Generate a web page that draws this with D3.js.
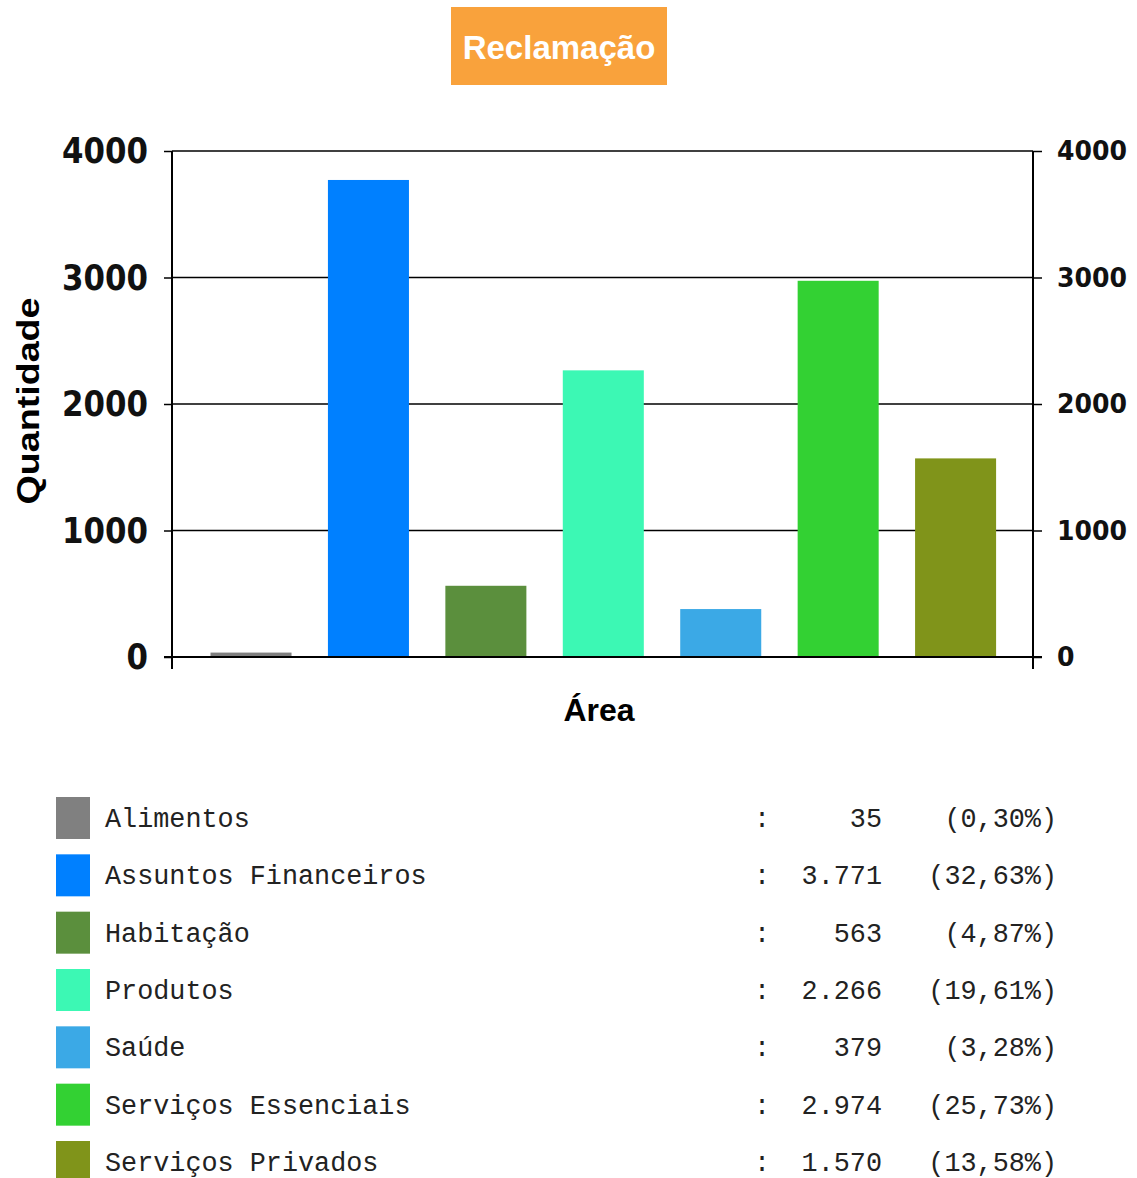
<!DOCTYPE html>
<html><head><meta charset="utf-8">
<script src="https://cdn.jsdelivr.net/npm/d3@7"></script>
<style>body{margin:0;background:#fff}svg{display:block}</style>
</head><body>
<script>
const categories = ["Alimentos","Assuntos Financeiros","Habitação","Produtos","Saúde","Serviços Essenciais","Serviços Privados"];
const values = [35, 3771, 563, 2266, 379, 2974, 1570];
const colors = ["#808080","#0080FF","#5B8F3D","#3CF8B4","#3BA9E6","#33D133","#80941A"];
const yTicks = [0, 1000, 2000, 3000, 4000];
const title = "Reclamação";
const yTitle = "Quantidade";
const xTitle = "Área";

const W = 1137, H = 1178;
const svg = d3.select("body").append("svg").attr("width", W).attr("height", H);
const loc = d3.formatLocale({decimal: ",", thousands: ".", grouping: [3], currency: ["R$", ""]});
const fmtN = loc.format(",d");
const fmtP = loc.format(".2f");
const total = d3.sum(values);

const plotL = 172, plotR = 1033, plotT = 151, plotB = 657;
const y = d3.scaleLinear().domain([0, 4000]).range([plotB, plotT]);
const x = d3.scaleBand().domain(categories).range([192.3, 1014.3]).paddingInner(0.31).paddingOuter(0.155);

// title box
svg.append("rect").attr("x", 451).attr("y", 7).attr("width", 216).attr("height", 78).attr("fill", "#F9A23C");
svg.append("text").attr("x", 559).attr("y", 59).attr("text-anchor", "middle")
  .attr("font-family", "Liberation Sans, Arial, sans-serif").attr("font-weight", "bold")
  .attr("font-size", 33).attr("fill", "#fff").text(title);

// gridlines
svg.append("g").selectAll("line").data(yTicks.filter(d => d > 0)).join("line")
  .attr("x1", plotL).attr("x2", plotR).attr("y1", d => y(d)).attr("y2", d => y(d))
  .attr("stroke", "#000").attr("stroke-width", 1.5);

// bars
svg.append("g").selectAll("rect").data(categories).join("rect")
  .attr("x", d => x(d)).attr("width", x.bandwidth())
  .attr("y", (d, i) => y(values[i])).attr("height", (d, i) => plotB - y(values[i]))
  .attr("fill", (d, i) => colors[i]);

// axes
const axL = svg.append("g").attr("transform", `translate(${plotL},0)`)
  .call(d3.axisLeft(y).tickValues(yTicks).tickSize(8).tickPadding(16).tickFormat(d3.format("d")));
axL.select(".domain").remove();
axL.selectAll("line").attr("stroke", "#000").attr("stroke-width", 1.5);
axL.selectAll("text").attr("font-family", "DejaVu Sans, sans-serif").attr("font-weight", "bold")
  .attr("font-size", 36).attr("fill", "#111")
  .attr("textLength", d => String(d).length * 21.5).attr("lengthAdjust", "spacingAndGlyphs");

const axR = svg.append("g").attr("transform", `translate(${plotR},0)`)
  .call(d3.axisRight(y).tickValues(yTicks).tickSize(9).tickPadding(15).tickFormat(d3.format("d")));
axR.select(".domain").remove();
axR.selectAll("line").attr("stroke", "#000").attr("stroke-width", 1.5);
axR.selectAll("text").attr("font-family", "DejaVu Sans, sans-serif").attr("font-weight", "bold")
  .attr("font-size", 27).attr("fill", "#111")
  .attr("textLength", d => String(d).length * 17.5).attr("lengthAdjust", "spacingAndGlyphs");

// axis frame lines
svg.append("line").attr("x1", plotL).attr("x2", plotL).attr("y1", plotT).attr("y2", plotB + 12).attr("stroke", "#000").attr("stroke-width", 2);
svg.append("line").attr("x1", plotR).attr("x2", plotR).attr("y1", plotT).attr("y2", plotB + 12).attr("stroke", "#000").attr("stroke-width", 2);
svg.append("line").attr("x1", plotL - 8).attr("x2", plotR + 9).attr("y1", plotB).attr("y2", plotB).attr("stroke", "#000").attr("stroke-width", 2);

// axis titles
svg.append("text").attr("transform", "translate(39,401) rotate(-90)").attr("text-anchor", "middle")
  .attr("font-family", "Liberation Sans, Arial, sans-serif").attr("font-weight", "bold")
  .attr("font-size", 31).attr("fill", "#000")
  .attr("textLength", 207).attr("lengthAdjust", "spacingAndGlyphs").text(yTitle);
svg.append("text").attr("x", 599).attr("y", 721).attr("text-anchor", "middle")
  .attr("font-family", "Liberation Sans, Arial, sans-serif").attr("font-weight", "bold")
  .attr("font-size", 32).attr("fill", "#000").text(xTitle);

// legend
const rowY = d3.scaleLinear().domain([0, 6]).range([818, 1162]);
const leg = svg.append("g").selectAll("g").data(categories).join("g")
  .attr("transform", (d, i) => `translate(0,${rowY(i)})`);
const mono = "Liberation Mono, Courier New, monospace";
leg.append("rect").attr("x", 56).attr("y", -21).attr("width", 34).attr("height", 42)
  .attr("fill", (d, i) => colors[i]);
leg.append("text").attr("x", 105).attr("y", 9).attr("font-family", mono).attr("font-size", 26.8)
  .attr("fill", "#222").text(d => d);
leg.append("text").attr("x", 762).attr("y", 9).attr("text-anchor", "middle").attr("font-family", mono).attr("font-size", 26.8)
  .attr("fill", "#222").text(":");
leg.append("text").attr("x", 882).attr("y", 9).attr("text-anchor", "end").attr("font-family", mono).attr("font-size", 26.8)
  .attr("fill", "#222").text((d, i) => fmtN(values[i]));
leg.append("text").attr("x", 1057).attr("y", 9).attr("text-anchor", "end").attr("font-family", mono).attr("font-size", 26.8)
  .attr("fill", "#222").text((d, i) => "(" + fmtP(values[i] / total * 100) + "%)");
</script>
</body></html>
